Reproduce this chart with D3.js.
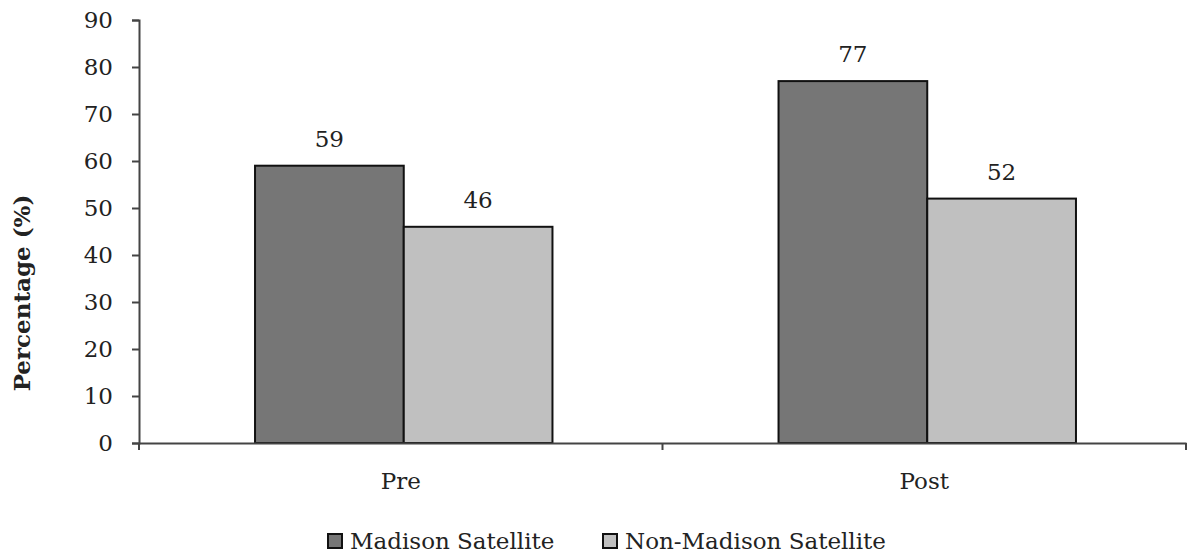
<!DOCTYPE html>
<html>
<head>
<meta charset="utf-8">
<script src="https://cdn.jsdelivr.net/npm/d3@7"></script>
<style>
  html, body { margin: 0; padding: 0; background: #fff; }
  svg text { font-family: "DejaVu Serif", "Liberation Serif", serif; fill: #222; }
</style>
</head>
<body>
<svg id="chart" width="1194" height="558"></svg>
<script>
// Survey results, percentage by period and group
const categories = ["Pre", "Post"];
const seriesNames = ["Madison Satellite", "Non-Madison Satellite"];
const madison = [59, 77];
const nonMadison = [46, 52];
const yTicks = [0, 10, 20, 30, 40, 50, 60, 70, 80, 90];
const seriesColors = ["#767676", "#c0c0c0"];

const svg = d3.select("#chart");
const margin = { left: 139, right: 8, top: 20, bottom: 115 };
const W = 1194, H = 558;
const FS = 23;

const x0 = d3.scaleBand().domain(categories)
  .range([margin.left, W - margin.right]).paddingInner(0).paddingOuter(0);
// bars sit slightly right of the band centre
const x1 = d3.scaleBand().domain(seriesNames)
  .range([3, x0.bandwidth() + 3]).paddingInner(0).paddingOuter(0.76);
const y = d3.scaleLinear().domain([0, 90]).range([H - margin.bottom, margin.top]);

const values = [madison, nonMadison];

// bars
const groups = svg.append("g").selectAll("g")
  .data(categories).join("g")
  .attr("transform", d => `translate(${x0(d)},0)`);

groups.selectAll("rect")
  .data((c, i) => seriesNames.map((s, j) => ({ s, v: values[j][i], j })))
  .join("rect")
  .attr("x", d => x1(d.s))
  .attr("y", d => y(d.v))
  .attr("width", x1.bandwidth())
  .attr("height", d => y(0) - y(d.v))
  .attr("fill", d => seriesColors[d.j])
  .attr("stroke", "#111")
  .attr("stroke-width", 2);

// value labels
groups.selectAll("text.val")
  .data((c, i) => seriesNames.map((s, j) => ({ s, v: values[j][i] })))
  .join("text")
  .attr("class", "val")
  .attr("x", d => x1(d.s) + x1.bandwidth() / 2)
  .attr("y", d => y(d.v) - 19)
  .attr("text-anchor", "middle")
  .style("font-size", FS + "px")
  .text(d => d.v);

// y axis
const yAxis = svg.append("g")
  .attr("transform", `translate(${margin.left},0)`)
  .call(d3.axisLeft(y).tickValues(yTicks).tickSize(7).tickSizeOuter(7).tickPadding(19));
yAxis.selectAll("path, line").attr("stroke", "#444").attr("stroke-width", 2);
yAxis.selectAll("text").style("font-size", FS + "px").style("font-family", "DejaVu Serif").attr("fill", "#222");

// x axis
const xAxis = svg.append("g")
  .attr("transform", `translate(0,${y(0)})`)
  .call(d3.axisBottom(x0).tickSize(0).tickPadding(30));
xAxis.select("path").attr("stroke", "#444").attr("stroke-width", 2);
xAxis.selectAll("text").style("font-size", FS + "px").style("font-family", "DejaVu Serif").attr("fill", "#222");
// category boundary ticks
const bounds = [x0.range()[0], x0(categories[1]), x0.range()[1]];
xAxis.selectAll("line.bound").data(bounds).join("line")
  .attr("class", "bound")
  .attr("x1", d => d).attr("x2", d => d)
  .attr("y1", 0).attr("y2", 7)
  .attr("stroke", "#444").attr("stroke-width", 2);

// y axis title
svg.append("text")
  .attr("transform", "translate(30,293) rotate(-90)")
  .attr("text-anchor", "middle")
  .style("font-size", "23px")
  .style("font-weight", "bold")
  .text("Percentage (%)");

// legend
const legend = svg.append("g").attr("transform", "translate(328,534)");
const legendX = [0, 275];
seriesNames.forEach((s, j) => {
  const g = legend.append("g").attr("transform", `translate(${legendX[j]},0)`);
  g.append("rect").attr("x", 0).attr("y", 0).attr("width", 14).attr("height", 14)
    .attr("fill", seriesColors[j]).attr("stroke", "#111").attr("stroke-width", 2);
  g.append("text").attr("x", 22).attr("y", 15)
    .style("font-size", FS + "px").text(s);
});
</script>
</body>
</html>
